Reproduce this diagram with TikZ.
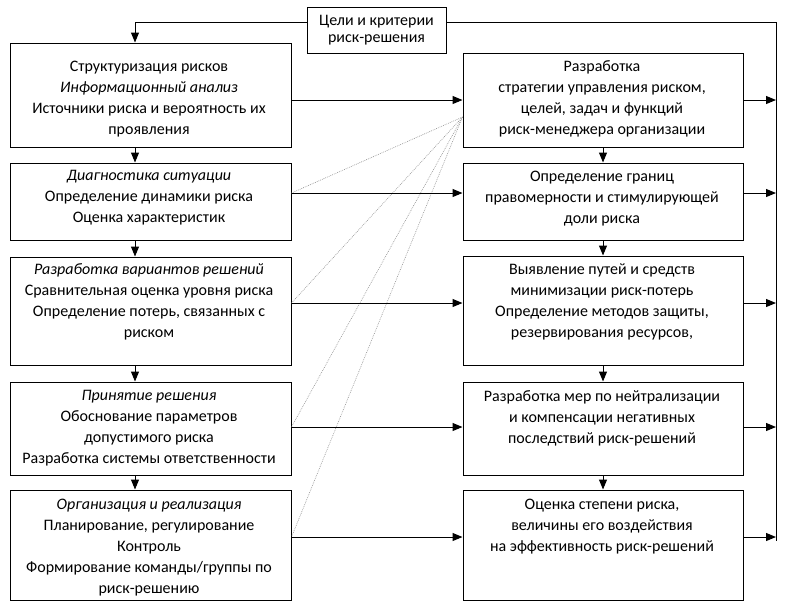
\documentclass[tikz,border=0pt]{standalone}
\usepackage{fontspec}
\setmainfont{Carlito}
\usetikzlibrary{fit,arrows.meta}
\begin{document}
\begin{tikzpicture}[x=0.75pt,y=-0.75pt,
  box/.style={draw, line width=0.75pt, inner sep=0pt},
  txt/.style={align=center, inner sep=0pt, anchor=north, font=\fontsize{12}{15.75}\selectfont,
    execute at begin node={\rule{0pt}{9pt}}},
  ttxt/.style={txt, font=\fontsize{12}{13.2}\selectfont},
  arr/.style={line width=0.75pt, -{Triangle[length=7.5pt,width=6pt]}},
  ln/.style={line width=0.75pt},
  dot/.style={draw=gray!85, line width=0.45pt, dash pattern=on 0.6pt off 0.8pt}]
\useasboundingbox (0,0) rectangle (785,612);
\fill[white] (0,0) rectangle (785,612);
% boxes
\node[box, fit={(307,7) (446,53)}] (T) {};
\node[box, fit={(10,43) (291,147)}] (L1) {};
\node[box, fit={(10,163) (291,240)}] (L2) {};
\node[box, fit={(10,257) (291,365)}] (L3) {};
\node[box, fit={(10,382) (291,475)}] (L4) {};
\node[box, fit={(10,490) (291,600)}] (L5) {};
\node[box, fit={(463,53) (743,147)}] (R1) {};
\node[box, fit={(463,163) (743,240)}] (R2) {};
\node[box, fit={(463,256) (743,365)}] (R3) {};
\node[box, fit={(463,382) (743,475)}] (R4) {};
\node[box, fit={(463,490) (743,600)}] (R5) {};
% texts
\node[ttxt] (tT) at (376.5,14.5) {Цели и критерии\\риск-решения};
\node[txt] (tL1) at (149,60.4) {Структуризация рисков\\\textit{Информационный анализ}\\Источники риска и вероятность их\\проявления};
\node[txt] (tL2) at (149,170.4) {\textit{Диагностика ситуации}\\Определение динамики риска\\Оценка характеристик};
\node[txt] (tL3) at (149,263.4) {\textit{Разработка вариантов решений}\\Сравнительная оценка уровня риска\\Определение потерь, связанных с\\риском};
\node[txt] (tL4) at (149,390.4) {\textit{Принятие решения}\\Обоснование параметров\\допустимого риска\\Разработка системы ответственности};
\node[txt] (tL5) at (149,498.4) {\textit{Организация и реализация}\\Планирование, регулирование\\Контроль\\Формирование команды/группы по\\риск-решению};
\node[txt] (tR1) at (602,60.4) {Разработка\\стратегии управления риском,\\целей, задач и функций\\риск-менеджера организации};
\node[txt] (tR2) at (602,170.4) {Определение границ\\правомерности и стимулирующей\\доли риска};
\node[txt] (tR3) at (602,263.4) {Выявление путей и средств\\минимизации риск-потерь\\Определение методов защиты,\\резервирования ресурсов,};
\node[txt] (tR4) at (602,390.4) {Разработка мер по нейтрализации\\и компенсации негативных\\последствий риск-решений};
\node[txt] (tR5) at (602,498.4) {Оценка степени риска,\\величины его воздействия\\на эффективность риск-решений};
% helper coordinates
\coordinate (ty) at (0,22);
\coordinate (cx) at (135,0);
\coordinate (fb) at (776,0);
\coordinate (fbend) at (776,541);
\coordinate (ap) at (0,117);
\coordinate (a1) at (0,100);
\coordinate (a2) at (0,193);
\coordinate (a3) at (0,303);
\coordinate (a4) at (0,427);
\coordinate (a5) at (0,537);
% dotted lines
\draw[dot] (R1.west |- ap) -- (L2.east |- a2);
\draw[dot] (R1.west |- ap) -- (L3.east |- a3);
\draw[dot] (R1.west |- ap) -- (L4.east |- a4);
\draw[dot] (R1.west |- ap) -- (L5.east |- a5);
% top feedback
\draw[arr] (T.west |- ty) -| (L1.north -| cx);
\draw[ln] (T.east |- ty) -| (fbend);
% left column
\draw[arr] (L1.south -| cx) -- (L2.north -| cx);
\draw[arr] (L2.south -| cx) -- (L3.north -| cx);
\draw[arr] (L3.south -| cx) -- (L4.north -| cx);
\draw[arr] (L4.south -| cx) -- (L5.north -| cx);
% right column
\draw[arr] (R1.south) -- (R2.north);
\draw[arr] (R2.south) -- (R3.north);
\draw[arr] (R3.south) -- (R4.north);
\draw[arr] (R4.south) -- (R5.north);
% horizontal
\draw[arr] (L1.east |- a1) -- (R1.west |- a1);
\draw[arr] (L2.east |- a2) -- (R2.west |- a2);
\draw[arr] (L3.east |- a3) -- (R3.west |- a3);
\draw[arr] (L4.east |- a4) -- (R4.west |- a4);
\draw[arr] (L5.east |- a5) -- (R5.west |- a5);
\draw[arr] (R1.east |- a1) -- (fb |- a1);
\draw[arr] (R2.east |- a2) -- (fb |- a2);
\draw[arr] (R3.east |- a3) -- (fb |- a3);
\draw[arr] (R4.east |- a4) -- (fb |- a4);
\draw[arr] (R5.east |- a5) -- (fb |- a5);
\end{tikzpicture}
\end{document}
